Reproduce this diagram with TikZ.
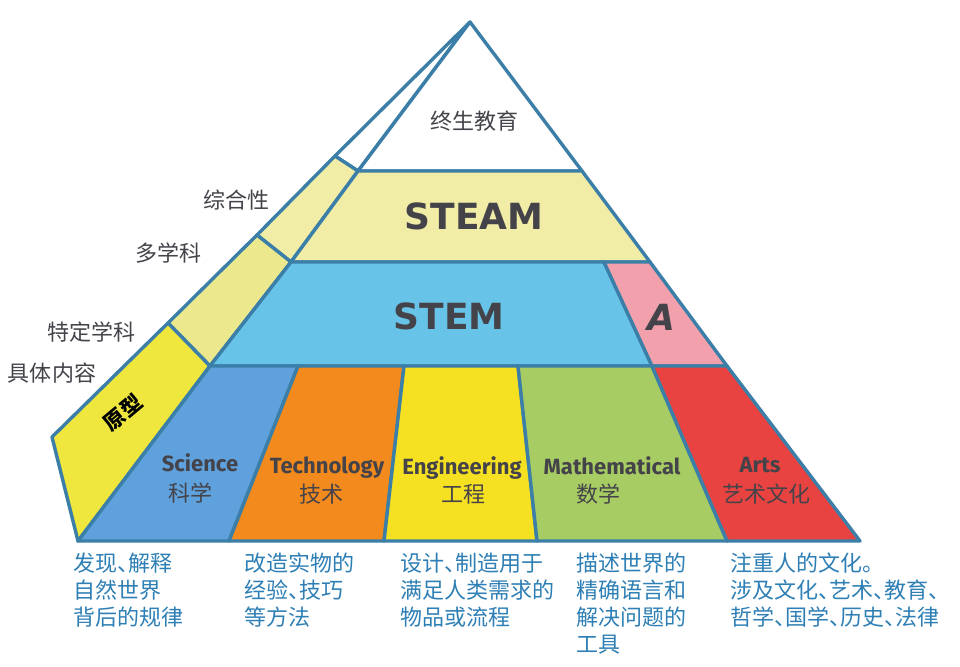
\documentclass[tikz,border=0pt]{standalone}
\usepackage{fontspec}
\setmainfont{Liberation Sans}
\newfontfamily\cjk[RawFeature={+palt}]{Noto Sans CJK SC}
\newfontfamily\latn{Fira Sans}
\newfontfamily\wide{DejaVu Sans}
\definecolor{edge}{HTML}{3B7FA8}
\definecolor{bluetxt}{HTML}{2E7FB5}
\definecolor{dark}{HTML}{45434A}
\definecolor{cSteam}{HTML}{F1ECA6}
\definecolor{cStem}{HTML}{68C3E8}
\definecolor{cA}{HTML}{F2A1AC}
\definecolor{cS2}{HTML}{EBE88E}
\definecolor{cS3}{HTML}{EFE63E}
\definecolor{cSci}{HTML}{5EA1DC}
\definecolor{cTec}{HTML}{F28A1E}
\definecolor{cEng}{HTML}{F6E022}
\definecolor{cMat}{HTML}{A6CC63}
\definecolor{cArt}{HTML}{E84340}
\tikzset{
  cell/.style={draw=edge,line width=3.4pt,line join=round},
  biglabel/.style={text=dark,font=\wide\bfseries\fontsize{36}{36}\selectfont,inner sep=0pt},
  sublabel/.style={text=dark,font=\latn\bfseries\fontsize{22}{22}\selectfont,inner sep=0pt},
  cjklabel/.style={text=dark,font=\cjk\fontsize{22}{22}\selectfont,inner sep=0pt},
  note/.style={text=bluetxt,font=\cjk\fontsize{22}{27}\selectfont,align=left,anchor=north west,inner sep=0pt}
}
\begin{document}
\begin{tikzpicture}[x=1pt,y=-1pt]
\useasboundingbox (0,0) rectangle (960,666);
\fill[white] (0,0) rectangle (960,666);
\coordinate (apex) at (470,22);
\coordinate (l1) at (358,171); \coordinate (r1) at (582,171);
\coordinate (l2) at (291,262); \coordinate (r2) at (650,262);
\coordinate (l3) at (210,366); \coordinate (r3) at (727,366);
\coordinate (bl) at (78,541);  \coordinate (br) at (860,541);
\coordinate (s1) at (335,156); \coordinate (s2) at (257,235);
\coordinate (s3) at (168,323); \coordinate (s4) at (52,437);
\coordinate (a2) at (604,262); \coordinate (a3) at (652,366);
\coordinate (t1) at (298,366); \coordinate (b1) at (229,541);
\coordinate (t2) at (404,366); \coordinate (b2) at (384,541);
\coordinate (t3) at (518,366); \coordinate (b3) at (537,541);
\coordinate (b4) at (727,541);
% side strips
\draw[cell,fill=white] (apex) -- (s1) -- (l1) -- cycle;
\draw[cell,fill=cSteam] (s1) -- (l1) -- (l2) -- (s2) -- cycle;
\draw[cell,fill=cS2] (s2) -- (l2) -- (l3) -- (s3) -- cycle;
\draw[cell,fill=cS3] (s3) -- (l3) -- (bl) -- (s4) -- cycle;
% pyramid layers
\draw[cell,fill=white] (apex) -- (l1) -- (r1) -- cycle;
\draw[cell,fill=cSteam] (l1) -- (r1) -- (r2) -- (l2) -- cycle;
\draw[cell,fill=cStem] (l2) -- (a2) -- (a3) -- (l3) -- cycle;
\draw[cell,fill=cA] (a2) -- (r2) -- (r3) -- (a3) -- cycle;
% base
\draw[cell,fill=cSci] (l3) -- (t1) -- (b1) -- (bl) -- cycle;
\draw[cell,fill=cTec] (t1) -- (t2) -- (b2) -- (b1) -- cycle;
\draw[cell,fill=cEng] (t2) -- (t3) -- (b3) -- (b2) -- cycle;
\draw[cell,fill=cMat] (t3) -- (a3) -- (b4) -- (b3) -- cycle;
\draw[cell,fill=cArt] (a3) -- (r3) -- (br) -- (b4) -- cycle;
% labels
\node[cjklabel] (top) at (474,121) {终生教育};
\node[biglabel] (steam) at (474,216) {STEAM};
\node[biglabel] (stem) at (449,316) {STEM};
\node[biglabel] (a) at (661,317) {\itshape A};
\node[cjklabel] (zh) at (236,200) {综合性};
\node[cjklabel] (dx) at (168,253) {多学科};
\node[cjklabel] (td) at (91,332) {特定学科};
\node[cjklabel] (jt) at (52,373) {具体内容};
\node[cjklabel,text=black,font=\cjk\bfseries\fontsize{21}{21}\selectfont,rotate=40] (yx) at (123,413) {原型};
\node[sublabel] (sci) at (200,463) {Science};
\node[cjklabel] (scz) at (190,493) {科学};
\node[sublabel] (tec) at (327,468) {Technology};
\node[cjklabel] (tcz) at (321,494) {技术};
\node[sublabel] (eng) at (462,468) {Engineering};
\node[cjklabel] (enz) at (463,494) {工程};
\node[sublabel] (mat) at (612,466) {Mathematical};
\node[cjklabel] (maz) at (598,494) {数学};
\node[sublabel] (art) at (760,465) {Arts};
\node[cjklabel] (arz) at (766,494) {艺术文化};
% notes
\node[note] (n1) at (73,553) {发现、解释\\自然世界\\背后的规律};
\node[note] (n2) at (244,553) {改造实物的\\经验、技巧\\等方法};
\node[note] (n3) at (400,553) {设计、制造用于\\满足人类需求的\\物品或流程};
\node[note] (n4) at (576,553) {描述世界的\\精确语言和\\解决问题的\\工具};
\node[note] (n5) at (730,553) {注重人的文化。\\涉及文化、艺术、教育、\\哲学、国学、历史、法律};
\end{tikzpicture}
\end{document}
